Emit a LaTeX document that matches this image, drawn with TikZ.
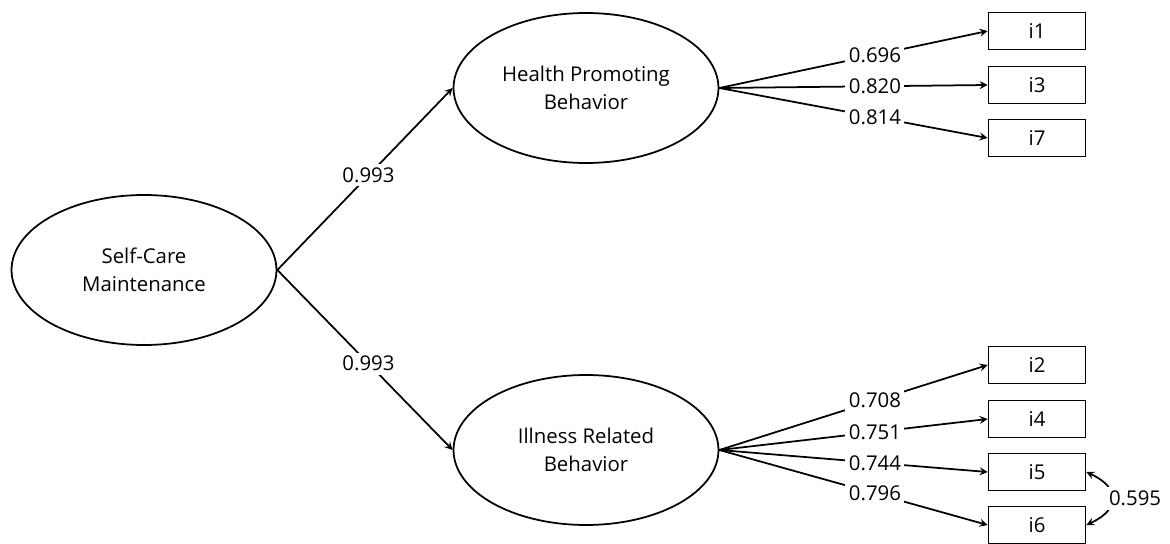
\documentclass[tikz,border=0pt]{standalone}
\usepackage{fontspec}
\setmainfont{Open Sans}
\usetikzlibrary{shapes,arrows.meta,positioning}

\begin{document}
\begin{tikzpicture}[>=stealth, x=0.02cm, y=-0.02cm, line width=1pt, font=\fontsize{11.6}{16}\selectfont]
    % Define style for the nodes
    \tikzstyle{latent} = [ellipse, draw, minimum width=5.3cm, minimum height=3cm, align=center, inner sep=0pt]
    \tikzstyle{item} = [rectangle, draw, minimum width=1.94cm, minimum height=0.74cm, inner sep=0pt]
    \tikzstyle{coef} = [fill=white, inner sep=2pt]

    \useasboundingbox (0,0) rectangle (1170,544);

    % Latent variables
    \node[latent] (selfcare) at (144,270) {Self-Care\\Maintenance};
    \node[latent] (health) at (586,88) {Health Promoting\\Behavior};
    \node[latent] (illness) at (586,450) {Illness Related\\Behavior};

    % Indicators
    \node[item] (i1) at (1037,31) {i1};
    \node[item] (i3) at (1037,85) {i3};
    \node[item] (i7) at (1037,138) {i7};
    \node[item] (i2) at (1037,365) {i2};
    \node[item] (i4) at (1037,419) {i4};
    \node[item] (i5) at (1037,472) {i5};
    \node[item] (i6) at (1037,525) {i6};

    % Second-order loadings
    \draw[->] (selfcare.east) -- node[coef, pos=0.52] {0.993} (health.west);
    \draw[->] (selfcare.east) -- node[coef, pos=0.52] {0.993} (illness.west);

    % First-order loadings
    \draw[->] (health.east) -- node[coef, pos=0.58] {0.696} (i1.west);
    \draw[->] (health.east) -- node[coef, pos=0.58] {0.820} (i3.west);
    \draw[->] (health.east) -- node[coef, pos=0.58] {0.814} (i7.west);
    \draw[->] (illness.east) -- node[coef, pos=0.58] {0.708} (i2.west);
    \draw[->] (illness.east) -- node[coef, pos=0.58] {0.751} (i4.west);
    \draw[->] (illness.east) -- node[coef, pos=0.58] {0.744} (i5.west);
    \draw[->] (illness.east) -- node[coef, pos=0.58] {0.796} (i6.west);

    % Error covariance
    \draw[<->] (i5.east) to[out=-25, in=25, looseness=1.8] node[coef, anchor=west, xshift=-4pt] {0.595} (i6.east);
\end{tikzpicture}
\end{document}
